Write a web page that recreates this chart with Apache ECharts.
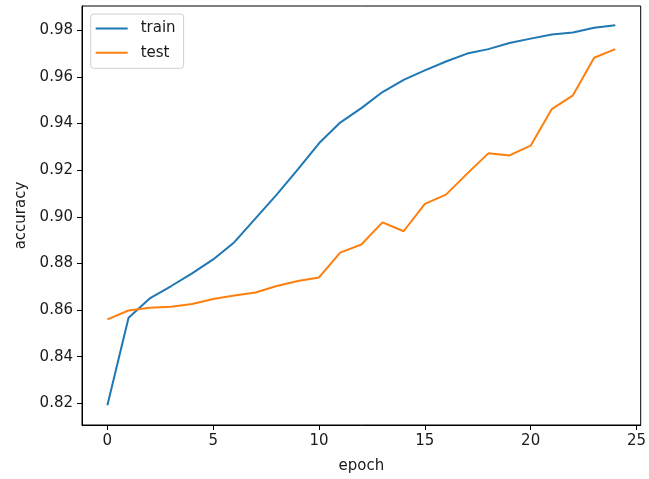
<!DOCTYPE html>
<html>
<head>
<meta charset="utf-8">
<script src="https://cdn.jsdelivr.net/npm/echarts@6/dist/echarts.min.js"></script>
<style>
html,body{margin:0;padding:0;background:#fff;}
#chart{width:649px;height:479px;}
</style>
</head>
<body>
<div id="chart"></div>
<script>
const epochs = [0,1,2,3,4,5,6,7,8,9,10,11,12,13,14,15,16,17,18,19,20,21,22,23,24];
const trainAcc = [0.8192,0.8567,0.8650,0.8702,0.8757,0.8817,0.8891,0.8993,0.9095,0.9203,0.9315,0.9404,0.9466,0.9535,0.9587,0.9628,0.9666,0.9700,0.9719,0.9745,0.9764,0.9782,0.9790,0.9811,0.9821];
const testAcc = [0.8560,0.8598,0.8610,0.8614,0.8626,0.8647,0.8662,0.8675,0.8703,0.8725,0.8740,0.8846,0.8881,0.8976,0.8938,0.9055,0.9095,0.9185,0.9272,0.9263,0.9305,0.9462,0.9521,0.9682,0.9719];
const xTicks = [0,5,10,15,20,25];
const yTicks = [0.82,0.84,0.86,0.88,0.90,0.92,0.94,0.96,0.98];
const seriesNames = ['train','test'];
const colors = ['#1f77b4','#ff7f0e'];

const font = 'DejaVu Sans';
const chart = echarts.init(document.getElementById('chart'), null, {renderer:'canvas'});
chart.setOption({
  animation:false,
  backgroundColor:'#fff',
  color: colors,
  grid:{left:82,right:3.3,top:6,bottom:53.3,show:true,borderColor:'#000',borderWidth:1,backgroundColor:'transparent'},
  legend:{
    orient:'vertical',left:90.7,top:14,
    data: seriesNames.map(n=>({name:n,icon:'rect'})),
    itemWidth:32,itemHeight:2,itemGap:9.3,
    padding:[7,8,8,5],
    backgroundColor:'rgba(255,255,255,0.8)',
    borderColor:'#d0d0d0',borderWidth:1,borderRadius:3,
    textStyle:{fontFamily:font,fontSize:15,color:'#1a1a1a',padding:[0,0,0,8]}
  },
  xAxis:{
    type:'value',min:-1.2,max:25.2,
    name:'epoch',nameLocation:'middle',nameGap:34,
    nameTextStyle:{fontFamily:font,fontSize:15,color:'#1a1a1a'},
    axisLine:{show:true,onZero:false,lineStyle:{color:'#000',width:1}},
    axisTick:{show:true,inside:false,length:5,customValues:xTicks,lineStyle:{color:'#000'}},
    axisLabel:{customValues:xTicks,fontFamily:font,fontSize:15,color:'#1a1a1a',margin:9},
    splitLine:{show:false}
  },
  yAxis:{
    type:'value',min:0.8107,max:0.9904,
    name:'accuracy',nameLocation:'middle',nameGap:47,nameRotate:90,
    nameTextStyle:{fontFamily:font,fontSize:15,color:'#1a1a1a'},
    axisLine:{show:true,onZero:false,lineStyle:{color:'#000',width:1}},
    axisTick:{show:true,inside:false,length:5,customValues:yTicks,lineStyle:{color:'#000'}},
    axisLabel:{customValues:yTicks,fontFamily:font,fontSize:15,color:'#1a1a1a',margin:9,formatter:v=>v.toFixed(2)},
    splitLine:{show:false}
  },
  series: [trainAcc,testAcc].map((arr,k)=>({
    name:seriesNames[k],type:'line',showSymbol:false,symbol:'none',
    lineStyle:{width:2,color:colors[k]},
    itemStyle:{color:colors[k]},
    data: epochs.map((e,i)=>[e,arr[i]])
  }))
});
</script>
</body>
</html>
